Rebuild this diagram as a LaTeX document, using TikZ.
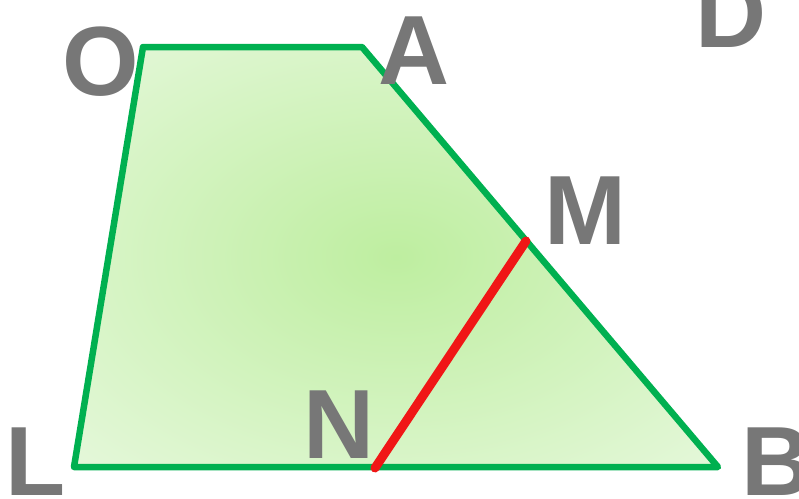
\documentclass[tikz,border=0pt]{standalone}
\usepackage{fontspec}
\setmainfont{Liberation Sans}
\usetikzlibrary{calc}
\definecolor{edgegreen}{RGB}{0,176,80}
\definecolor{fillin}{RGB}{190,238,160}
\definecolor{fillout}{RGB}{238,250,232}
\definecolor{cutred}{RGB}{240,22,22}
\definecolor{labelgray}{RGB}{119,119,119}
\pgfdeclareradialshading{softglow}{\pgfpoint{0bp}{0bp}}{%
  color(0bp)=(fillin); color(44bp)=(fillout); color(72bp)=(fillout)}
\begin{document}
\begin{tikzpicture}[
  x=0.02cm, y=-0.02cm,
  pt/.style={font=\fontsize{56}{60}\selectfont\bfseries, text=labelgray, inner sep=0pt},
  side/.style={draw=edgegreen, line width=0.13cm, line join=round},
  cut/.style={draw=cutred, line width=0.18cm, line cap=round}
]
\useasboundingbox (0,0) rectangle (799,498);

% vertices of the trapezoid
\coordinate (O) at (143,47);
\coordinate (A) at (362,47);
\coordinate (B) at (718,467);
\coordinate (L) at (74,467);
\coordinate (M) at (526,241);
\coordinate (N) at (375,468);

\shade[shading=softglow] (O) -- (A) -- (B) -- (L) -- cycle;
\draw[side] (O) -- (A) -- (B) -- (L) -- cycle;
\draw[cut] (M) -- (N);

% labels
\node[pt] (lO) at (101,62) {O};
\node[pt] (lA) at (414,51) {A};
\node[pt] (lD) at (731,14) {D};
\node[pt] (lM) at (585,211) {M};
\node[pt] (lN) at (339,425) {N};
\node[pt] (lL) at (36,462) {L};
\node[pt] (lB) at (777,462) {B};

\end{tikzpicture}
\end{document}
